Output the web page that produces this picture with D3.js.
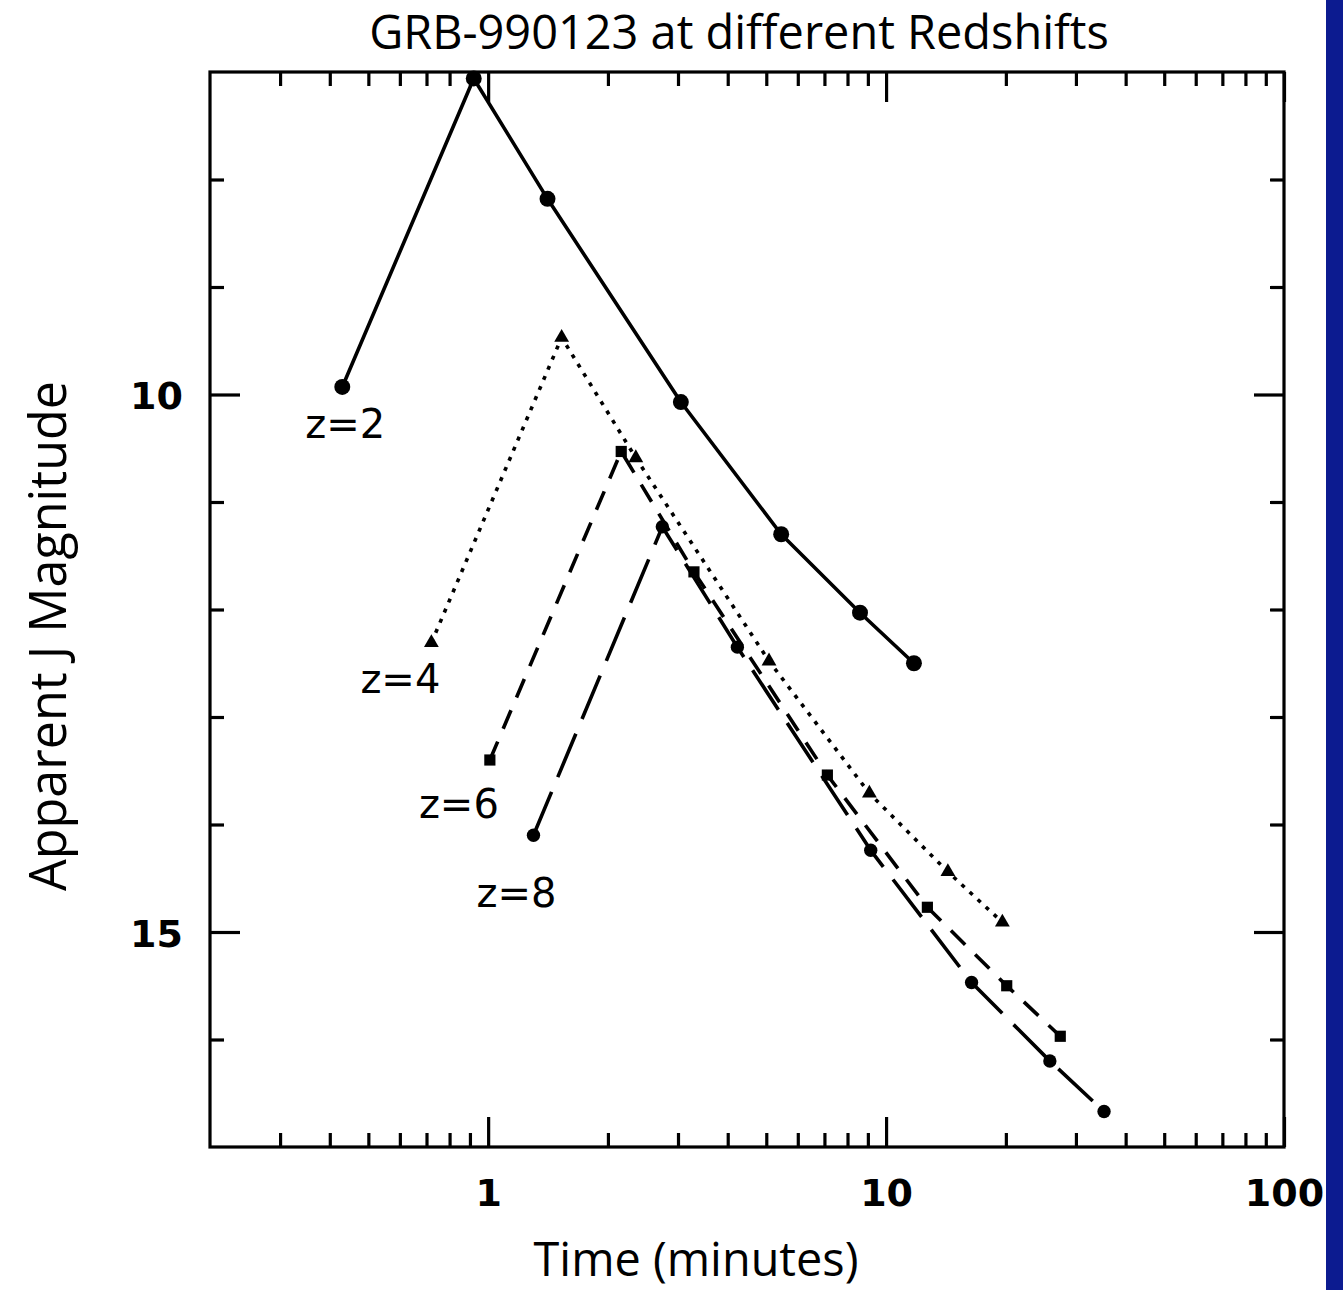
<!DOCTYPE html>
<html>
<head>
<meta charset="utf-8">
<script src="https://cdn.jsdelivr.net/npm/d3@7"></script>
<style>
  html, body { margin: 0; padding: 0; background: #ffffff; }
  svg { display: block; }
</style>
</head>
<body>
<script>
// ---------- data ----------
const seriesNames = ["z=2", "z=4", "z=6", "z=8"];
const z2Times = [0.43, 0.92, 1.41, 3.05, 5.45, 8.6, 11.75];
const z2Mags  = [9.93, 7.06, 8.18, 10.07, 11.30, 12.03, 12.50];
const z4Times = [0.72, 1.53, 2.35, 5.08, 9.08, 14.3, 19.6];
const z4Mags  = [12.31, 9.47, 10.59, 12.48, 13.71, 14.44, 14.91];
const z6Times = [1.01, 2.16, 3.29, 7.12, 12.7, 20.1, 27.4];
const z6Mags  = [13.40, 10.53, 11.65, 13.54, 14.77, 15.50, 15.97];
const z8Times = [1.30, 2.74, 4.23, 9.15, 16.4, 25.8, 35.3];
const z8Mags  = [14.10, 11.23, 12.35, 14.24, 15.47, 16.20, 16.67];

const xMajorTicks = [1, 10, 100];
const xMajorLabels = ["1", "10", "100"];
const xMinorTicks = [0.3, 0.4, 0.5, 0.6, 0.7, 0.8, 0.9, 2, 3, 4, 5, 6, 7, 8, 9, 20, 30, 40, 50, 60, 70, 80, 90];
const yMajorTicks = [10, 15];
const yMajorLabels = ["10", "15"];
const yMinorTicks = [8, 9, 11, 12, 13, 14, 16];

const titleText = "GRB-990123 at different Redshifts";
const xTitle = "Time (minutes)";
const yTitle = "Apparent J Magnitude";

// ---------- layout ----------
const W = 1343, H = 1290;
const plot = { left: 210, right: 1284, top: 72, bottom: 1147 };

const svg = d3.select("body").append("svg").attr("width", W).attr("height", H);
svg.append("rect").attr("width", W).attr("height", H).attr("fill", "#ffffff");
// blue slide edge on the right
svg.append("rect").attr("x", 1326).attr("y", 0).attr("width", W - 1326).attr("height", H).attr("fill", "#0c1b90");

const x = d3.scaleLog().domain([0.2, 100]).range([plot.left, plot.right]);
const y = d3.scaleLinear().domain([7, 17]).range([plot.top, plot.bottom]);

const axisStroke = 3.2;
function styleAxis(g) {
  g.select(".domain").remove();
  g.selectAll(".tick line").attr("stroke", "#000").attr("stroke-width", axisStroke);
}

// bottom axis (inward ticks)
svg.append("g").attr("transform", `translate(0,${plot.bottom})`)
  .call(d3.axisBottom(x).tickValues(xMinorTicks).tickSize(-14).tickFormat(""))
  .call(styleAxis);
const xb = svg.append("g").attr("transform", `translate(0,${plot.bottom})`)
  .call(d3.axisBottom(x).tickValues(xMajorTicks).tickSize(-30).tickPadding(48)
    .tickFormat((d, i) => xMajorLabels[i]))
  .call(styleAxis);
xb.selectAll(".tick text").attr("font-family", "DejaVu Sans").attr("font-weight", "bold")
  .attr("font-size", 38).attr("fill", "#000").attr("dy", "0.3em");

// top axis
svg.append("g").attr("transform", `translate(0,${plot.top})`)
  .call(d3.axisTop(x).tickValues(xMinorTicks).tickSize(-14).tickFormat(""))
  .call(styleAxis);
svg.append("g").attr("transform", `translate(0,${plot.top})`)
  .call(d3.axisTop(x).tickValues(xMajorTicks).tickSize(-30).tickFormat(""))
  .call(styleAxis);

// left axis
svg.append("g").attr("transform", `translate(${plot.left},0)`)
  .call(d3.axisLeft(y).tickValues(yMinorTicks).tickSize(-14).tickFormat(""))
  .call(styleAxis);
const yl = svg.append("g").attr("transform", `translate(${plot.left},0)`)
  .call(d3.axisLeft(y).tickValues(yMajorTicks).tickSize(-30).tickPadding(27)
    .tickFormat((d, i) => yMajorLabels[i]))
  .call(styleAxis);
yl.selectAll(".tick text").attr("font-family", "DejaVu Sans").attr("font-weight", "bold")
  .attr("font-size", 38).attr("fill", "#000").attr("dy", "0.38em");

// right axis
svg.append("g").attr("transform", `translate(${plot.right},0)`)
  .call(d3.axisRight(y).tickValues(yMinorTicks).tickSize(-14).tickFormat(""))
  .call(styleAxis);
svg.append("g").attr("transform", `translate(${plot.right},0)`)
  .call(d3.axisRight(y).tickValues(yMajorTicks).tickSize(-30).tickFormat(""))
  .call(styleAxis);

// frame
svg.append("rect")
  .attr("x", plot.left).attr("y", plot.top)
  .attr("width", plot.right - plot.left).attr("height", plot.bottom - plot.top)
  .attr("fill", "none").attr("stroke", "#000").attr("stroke-width", axisStroke);

// ---------- series ----------
const series = [
  { name: seriesNames[0], t: z2Times, m: z2Mags, dash: null, sym: d3.symbolCircle, size: 200, label: [3, 51] },
  { name: seriesNames[1], t: z4Times, m: z4Mags, dash: "4,7", sym: d3.symbolTriangle, size: 95, label: [-31, 50] },
  { name: seriesNames[2], t: z6Times, m: z6Mags, dash: "20,14", sym: d3.symbolSquare, size: 125, label: [-31, 58] },
  { name: seriesNames[3], t: z8Times, m: z8Mags, dash: "47,16", sym: d3.symbolCircle, size: 140, label: [-17, 72] }
];

const line = d3.line().x(d => x(d[0])).y(d => y(d[1]));

series.forEach(s => {
  const pts = s.t.map((t, i) => [t, s.m[i]]);
  svg.append("path")
    .datum(pts)
    .attr("d", line)
    .attr("fill", "none")
    .attr("stroke", "#000")
    .attr("stroke-width", 3.6)
    .attr("stroke-dasharray", s.dash)
    .attr("stroke-linejoin", "round");
  svg.append("g").selectAll("path")
    .data(pts)
    .join("path")
    .attr("transform", d => `translate(${x(d[0])},${y(d[1])})`)
    .attr("d", d3.symbol().type(s.sym).size(s.size))
    .attr("fill", "#000");
  svg.append("text")
    .attr("x", x(pts[0][0]) + s.label[0])
    .attr("y", y(pts[0][1]) + s.label[1])
    .attr("text-anchor", "middle")
    .attr("font-family", "DejaVu Sans")
    .attr("font-size", 40)
    .attr("fill", "#000")
    .text(s.name);
});

// ---------- titles ----------
function fitText(sel, targetWidth) {
  const n = sel.node();
  const w = n.getComputedTextLength();
  const fs = parseFloat(sel.attr("font-size"));
  sel.attr("font-size", fs * targetWidth / w);
}

const title = svg.append("text")
  .attr("x", 739).attr("y", 49)
  .attr("text-anchor", "middle")
  .attr("font-family", "Open Sans")
  .attr("font-size", 44)
  .attr("fill", "#000")
  .text(titleText);
fitText(title, 740);

const xt = svg.append("text")
  .attr("x", 696).attr("y", 1276)
  .attr("text-anchor", "middle")
  .attr("font-family", "Open Sans")
  .attr("font-size", 44)
  .attr("fill", "#000")
  .text(xTitle);
fitText(xt, 325);

const yt = svg.append("text")
  .attr("transform", "translate(66,636) rotate(-90)")
  .attr("text-anchor", "middle")
  .attr("font-family", "Open Sans")
  .attr("font-size", 44)
  .attr("fill", "#000")
  .text(yTitle);
fitText(yt, 510);
</script>
</body>
</html>
